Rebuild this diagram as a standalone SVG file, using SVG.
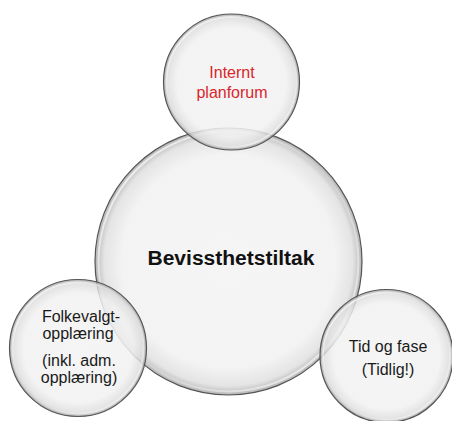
<svg xmlns="http://www.w3.org/2000/svg" width="452" height="421" viewBox="0 0 452 421">
  <defs>
    <radialGradient id="bubble" cx="50%" cy="50%" r="50%">
      <stop offset="0" stop-color="#f4f4f4" stop-opacity="0.9"/>
      <stop offset="0.8" stop-color="#f1f1f1" stop-opacity="0.85"/>
      <stop offset="0.93" stop-color="#dedede" stop-opacity="0.8"/>
      <stop offset="1" stop-color="#a8a8a8" stop-opacity="0.85"/>
    </radialGradient>
    <linearGradient id="hl" x1="0" y1="0" x2="1" y2="1">
      <stop offset="0" stop-color="#ffffff" stop-opacity="0.9"/>
      <stop offset="0.5" stop-color="#ffffff" stop-opacity="0.1"/>
      <stop offset="1" stop-color="#ffffff" stop-opacity="0.8"/>
    </linearGradient>
  </defs>
  <style>
    .b { fill: url(#bubble); stroke: #555; stroke-width: 1.2; }
    .h { fill: none; stroke: url(#hl); stroke-width: 2; }
    .t { font-family: "Liberation Sans", Arial, sans-serif; font-size: 16px; fill: #1a1a1a; text-anchor: middle; }
    .red { fill: #d9262b; }
    .big { font-weight: bold; font-size: 20px; fill: #111; }
  </style>
  <rect width="452" height="421" fill="#ffffff"/>
  <g id="connectors"/>
  <g id="node-main">
    <circle class="b" cx="228.5" cy="261.5" r="133.5"/>
    <circle class="h" cx="228.5" cy="261.5" r="130"/>
  </g>
  <g id="node-top">
    <circle class="b" cx="231.5" cy="82" r="68"/>
    <circle class="h" cx="231.5" cy="82" r="65"/>
  </g>
  <g id="node-left">
    <circle class="b" cx="78" cy="348" r="68.5"/>
    <circle class="h" cx="78" cy="348" r="65.5"/>
  </g>
  <g id="node-right">
    <circle class="b" cx="386.5" cy="356" r="66.5"/>
    <circle class="h" cx="386.5" cy="356" r="63.5"/>
  </g>
  <g id="labels">
    <text class="t big" x="231" y="265" textLength="167" lengthAdjust="spacingAndGlyphs">Bevissthetstiltak</text>
    <text class="t red" x="232" y="78">Internt</text>
    <text class="t red" x="232" y="98">planforum</text>
    <text class="t" x="81" y="322">Folkevalgt-</text>
    <text class="t" x="78" y="339">opplæring</text>
    <text class="t" x="79" y="366">(inkl. adm.</text>
    <text class="t" x="79" y="383">opplæring)</text>
    <text class="t" x="388" y="352">Tid og fase</text>
    <text class="t" x="388" y="375">(Tidlig!)</text>
  </g>
</svg>
